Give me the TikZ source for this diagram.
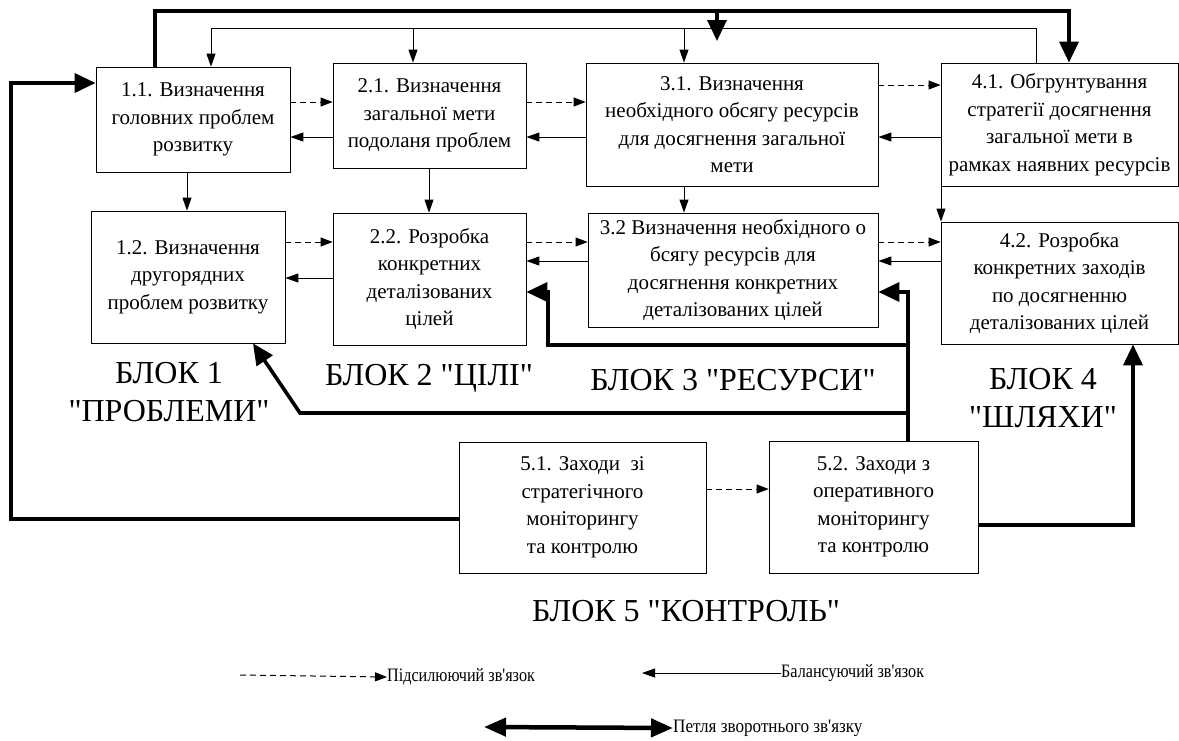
\documentclass[tikz,border=0pt]{standalone}
\usepackage{fontspec}
\setmainfont{Liberation Serif}[Ligatures=TeXOff]
\usetikzlibrary{arrows.meta}
\begin{document}
\begin{tikzpicture}[x=1pt,y=-1pt,
  box/.style={draw=black,line width=0.8pt,align=center,inner sep=2pt,
    font=\fontsize{21}{27.5}\selectfont},
  blk/.style={align=center,inner sep=0pt,font=\fontsize{32}{38}\selectfont},
  leg/.style={inner sep=0pt,anchor=west,font=\fontsize{19}{20}\selectfont},
  bal/.style={line width=0.9pt,-{Triangle[length=13pt,width=9pt]}},
  reinf/.style={line width=0.9pt,dash pattern=on 6pt off 4pt,-{Triangle[length=12pt,width=9pt]}},
  loopl/.style={line width=3.6pt,-{Triangle[length=21pt,width=19pt]}},
  plain/.style={line width=0.9pt}
]
\useasboundingbox (0,0) rectangle (1179,740);

% boxes
\node[box,minimum width=194pt,minimum height=105pt] (b11) at (193,119.5)
  {1.1. Визначення\\головних проблем\\розвитку};
\node[box,minimum width=193pt,minimum height=105pt] (b21) at (429.5,115.5)
  {2.1. Визначення\\загальної мети\\подоланя проблем};
\node[box,minimum width=292pt,minimum height=123pt] (b31) at (732,124.5)
  {3.1. Визначення\\необхідного обсягу ресурсів\\для досягнення загальної\\мети};
\node[box,minimum width=237pt,minimum height=123pt] (b41) at (1059.5,124.5)
  {4.1. Обгрунтування\\стратегії досягнення\\загальної мети в\\рамках наявних ресурсів};
\node[box,minimum width=194pt,minimum height=132pt] (b12) at (188,277)
  {1.2. Визначення\\другорядних\\проблем розвитку};
\node[box,minimum width=193pt,minimum height=132pt] (b22) at (429.5,279)
  {2.2. Розробка\\конкретних\\деталізованих\\цілей};
\node[box,minimum width=290pt,minimum height=114pt] (b32) at (733,270)
  {3.2 Визначення необхідного о\\бсягу ресурсів для\\досягнення конкретних\\деталізованих цілей};
\node[box,minimum width=237pt,minimum height=122pt] (b42) at (1059.5,283)
  {4.2. Розробка\\конкретних заходів\\по досягненню\\деталізованих цілей};
\node[box,minimum width=247pt,minimum height=131pt] (b51) at (582.5,507.5)
  {5.1. Заходи~ зі\\стратегічного\\моніторингу\\та контролю};
\node[box,minimum width=209pt,minimum height=132pt] (b52) at (873.5,507)
  {5.2. Заходи з\\оперативного\\моніторингу\\та контролю};

% block labels
\node[blk] (L1) at (169,392) {БЛОК 1\\"ПРОБЛЕМИ"};
\node[blk] (L2) at (429,378) {БЛОК 2 "ЦІЛІ"};
\node[blk] (L3) at (733,380) {БЛОК 3 "РЕСУРСИ"};
\node[blk] (L4) at (1043,398) {БЛОК 4\\"ШЛЯХИ"};
\node[blk] (L5) at (686,611) {БЛОК 5 "КОНТРОЛЬ"};

% thin top loop
\draw[bal] (b41.north -| 1036,0) |- (211,28) -- (b11.north -| 211,0);
\draw[bal] (413,28) -- (b21.north -| 413,0);
\draw[bal] (684,28) -- (b31.north -| 684,0);

% thick top loop
\draw[loopl] (b11.north -| 155,0) |- (1069,11) -- (b41.north -| 1069,0);
\draw[loopl] (717,11) -- (717,41);

% thick left loop from 5.1
\draw[loopl] (b51.west |- 0,519) -| (11,83) -- (b11.west |- 0,83);

% thick loop 5.2 -> 4.2
\draw[loopl] (b52.east |- 0,525) -| (b42.south -| 1133,0);

% thick loop 5.2 -> 3.2, 2.2, 1.2
\draw[loopl] (b52.north -| 908,0) |- (b32.east |- 0,292);
\draw[loopl] (908,345) -| (548,292) -- (b22.east |- 0,292);
\draw[loopl] (908,413) -- (300,413) -- (b12.south -| 253,0);

% horizontal links row 1
\draw[reinf] (b11.east |- 0,102) -- (b21.west |- 0,102);
\draw[bal] (b21.west |- 0,137) -- (b11.east |- 0,137);
\draw[reinf] (b21.east |- 0,102) -- (b31.west |- 0,102);
\draw[bal] (b31.west |- 0,137) -- (b21.east |- 0,137);
\draw[reinf] (b31.east |- 0,85) -- (b41.west |- 0,85);
\draw[bal] (b41.west |- 0,137) -- (b31.east |- 0,137);

% horizontal links row 2
\draw[reinf] (b12.east |- 0,242) -- (b22.west |- 0,242);
\draw[bal] (b22.west |- 0,278) -- (b12.east |- 0,278);
\draw[reinf] (b22.east |- 0,242) -- (b32.west |- 0,242);
\draw[bal] (b32.west |- 0,261) -- (b22.east |- 0,261);
\draw[reinf] (b32.east |- 0,242) -- (b42.west |- 0,242);
\draw[bal] (b42.west |- 0,261) -- (b32.east |- 0,261);

% control row
\draw[reinf] (b51.east |- 0,489) -- (b52.west |- 0,489);

% vertical links
\draw[bal] (b11.south -| 187,0) -- (b12.north -| 187,0);
\draw[bal] (b21.south -| 429,0) -- (b22.north -| 429,0);
\draw[bal] (b31.south -| 684,0) -- (b32.north -| 684,0);
\draw[bal] (b41.south -| 941,0) -- (b42.north -| 941,0);

% legend
\coordinate (la) at (240,675);
\node[leg] (lt1) at (387,677) {\scalebox{0.85}[1]{Підсилюючий зв'язок}};
\draw[reinf,line width=1pt] (la) -- (lt1.west);
\coordinate (lb) at (642,673);
\node[leg] (lt2) at (781,673) {\scalebox{0.85}[1]{Балансуючий зв'язок}};
\draw[bal] (lt2.west) -- (lb);
\coordinate (lc) at (484,727);
\node[leg] (lt3) at (673,728) {\scalebox{0.9}[1]{Петля зворотнього зв'язку}};
\draw[line width=4.5pt,{Triangle[length=22pt,width=18pt]}-{Triangle[length=22pt,width=18pt]}] (lc) -- (lt3.west);
\end{tikzpicture}
\end{document}
